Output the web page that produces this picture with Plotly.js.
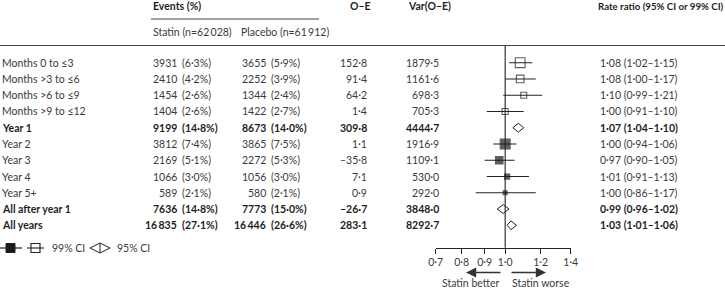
<!DOCTYPE html>
<html>
<head>
<meta charset="utf-8">
<script src="https://cdn.plot.ly/plotly-3.0.1.min.js"></script>
<style>html,body{margin:0;padding:0;background:#fff}#chart{width:725px;height:290px}</style>
</head>
<body>
<div id="chart"></div>
<script>
// ---- data ----
const labels = ["Months 0 to ≤3","Months >3 to ≤6","Months >6 to ≤9","Months >9 to ≤12","Year 1","Year 2","Year 3","Year 4","Year 5+","All after year 1","All years"];
const statinEvents = [3931,2410,1454,1404,9199,3812,2169,1066,589,7636,16835];
const statinPct = [6.3,4.2,2.6,2.6,14.8,7.4,5.1,3.0,2.1,14.8,27.1];
const placeboEvents = [3655,2252,1344,1422,8673,3865,2272,1056,580,7773,16446];
const placeboPct = [5.9,3.9,2.4,2.7,14.0,7.5,5.3,3.0,2.1,15.0,26.6];
const oMinusE = [152.8,91.4,64.2,1.4,309.8,1.1,-35.8,7.1,0.9,-26.7,283.1];
const varOE = [1879.5,1161.6,698.3,705.3,4444.7,1916.9,1109.1,530.0,292.0,3848.0,8292.7];
const rateRatio = [1.08,1.08,1.10,1.00,1.07,1.00,0.97,1.01,1.00,0.99,1.03];
const ciLow = [1.02,1.00,0.99,0.91,1.04,0.94,0.90,0.91,0.86,0.96,1.01];
const ciHigh = [1.15,1.17,1.21,1.10,1.10,1.06,1.05,1.13,1.17,1.02,1.06];
const markerKind = ["open","open","open","open","diamond","filled","filled","filled","filled","diamond","diamond"];
const boldRow = [false,false,false,false,true,false,false,false,false,true,true];
const tickVals = [0.7,0.8,0.9,1.0,1.2,1.4];
const tickText = ["0·7","0·8","0·9","1·0","1·2","1·4"];

// ---- helpers ----
const W = 725, H = 290;
const FONT = "Lato, Open Sans, sans-serif";
const FS = 10.5;
const TXT = "#3a3a3a", BLK = "#1e1e1e";
const px = x => x / W;            // pixel -> paper x
const py = y => 1 - y / H;        // pixel -> paper y
function dec(v, d){ const s = Math.abs(v).toFixed(d).replace(".", "·"); return (v < 0 ? "–" : "") + s; }
function intFmt(n){ const s = String(n); return s.length > 4 ? s.slice(0, s.length-3) + "\u2009" + s.slice(-3) : s; }

const rows = labels.map((_, i) => i);
const ann = [];
function addText(text, x, row, anchor, bold){
  ann.push({text: bold ? "<b>"+text+"</b>" : text, xref:"paper", yref:"y", x: px(x), y: row,
    xanchor: anchor, yanchor:"middle", showarrow:false,
    font:{family:FONT, size:FS, color: bold ? BLK : TXT}});
}
rows.forEach(i => {
  const b = boldRow[i];
  addText(labels[i], 0, i, "left", b);
  addText(intFmt(statinEvents[i]), 179, i, "right", b);
  addText("("+dec(statinPct[i],1)+"%)", 180, i, "left", b);
  addText(intFmt(placeboEvents[i]), 268, i, "right", b);
  addText("("+dec(placeboPct[i],1)+"%)", 269, i, "left", b);
  addText(dec(oMinusE[i],1), 369, i, "right", b);
  addText(dec(varOE[i],1), 441, i, "right", b);
  addText(dec(rateRatio[i],2)+" ("+dec(ciLow[i],2)+"–"+dec(ciHigh[i],2)+")", 598, i, "left", b);
});
// headers
function addHead(text, x, y, anchor, bold, size){
  ann.push({text: bold ? "<b>"+text+"</b>" : text, xref:"paper", yref:"paper", x: px(x), y: py(y),
    xanchor: anchor, yanchor:"middle", showarrow:false,
    font:{family:FONT, size: size || FS, color: bold ? BLK : TXT}});
}
addHead("Events (%)", 151, 6, "left", true);
addHead("Statin (n=62\u2009028)", 151, 32.5, "left", false);
addHead("Placebo (n=61\u2009912)", 239, 32.5, "left", false);
addHead("O–E", 348, 6, "left", true);
addHead("Var(O–E)", 406, 6, "left", true);
addHead("Rate ratio (95% CI or 99% CI)", 596, 6, "left", true, 9.7);
addHead("99% CI", 50, 248, "left", false);
addHead("95% CI", 115, 248, "left", false);
addHead("Statin better", 501, 282.5, "right", false);
addHead("Statin worse", 510, 282.5, "left", false);
// direction arrows
ann.push({text:"", xref:"paper", yref:"paper", x: px(466), y: py(272.5), ax: 36, ay: 0,
  showarrow:true, arrowhead:2, arrowsize:1.2, arrowwidth:1.7, arrowcolor:"#333"});
ann.push({text:"", xref:"paper", yref:"paper", x: px(546), y: py(272.5), ax: -36, ay: 0,
  showarrow:true, arrowhead:2, arrowsize:1.2, arrowwidth:1.7, arrowcolor:"#333"});

// ---- traces ----
const ciX = [], ciY = [];
rows.forEach(i => { if (markerKind[i] !== "diamond"){ ciX.push(ciLow[i], ciHigh[i], null); ciY.push(i, i, null); } });
const traces = [{type:"scatter", mode:"lines", x: ciX, y: ciY, line:{color:"#222", width:1.1}, hoverinfo:"skip", showlegend:false}];

const sq = rows.filter(i => markerKind[i] !== "diamond");
traces.push({type:"scatter", mode:"markers", x: sq.map(i => rateRatio[i]), y: sq,
  marker:{symbol: sq.map(i => markerKind[i] === "open" ? "square-open" : "square"),
          size: sq.map(i => 0.225 * Math.sqrt(varOE[i])),
          color:"#1a1a1a", line:{color:"#1a1a1a", width:1.1}},
  hoverinfo:"skip", showlegend:false});

const dh = 0.27;
rows.filter(i => markerKind[i] === "diamond").forEach(i => {
  traces.push({type:"scatter", mode:"lines", fill:"toself", fillcolor:"#fff",
    x:[ciLow[i], rateRatio[i], ciHigh[i], rateRatio[i], ciLow[i]],
    y:[i, i - dh, i, i + dh, i], line:{color:"#222", width:1}, hoverinfo:"skip", showlegend:false});
});

// ---- shapes (rules, reference line, legend glyphs) ----
const shapes = [
  {type:"line", xref:"paper", yref:"paper", x0:0, x1:1, y0:py(45.5), y1:py(45.5), line:{color:"#444", width:1}},
  {type:"line", xref:"paper", yref:"paper", x0:px(151), x1:px(319), y0:py(19), y1:py(19), line:{color:"#444", width:1}},
  {type:"line", xref:"x", yref:"paper", x0:1, x1:1, y0:py(45.5), y1:py(247.7), line:{color:"#222", width:1.1}},
  // legend
  {type:"line", xref:"paper", yref:"paper", x0:px(0), x1:px(22), y0:py(248), y1:py(248), line:{color:"#222", width:1.2}},
  {type:"rect", xref:"paper", yref:"paper", x0:px(6), x1:px(15), y0:py(243.5), y1:py(252.5), fillcolor:"#1a1a1a", line:{color:"#1a1a1a", width:1}},
  {type:"line", xref:"paper", yref:"paper", x0:px(27), x1:px(44), y0:py(248), y1:py(248), line:{color:"#222", width:1.1}},
  {type:"rect", xref:"paper", yref:"paper", x0:px(31), x1:px(40), y0:py(243.5), y1:py(252.5), line:{color:"#222", width:1.1}},
  {type:"path", xref:"paper", yref:"paper",
    path:`M ${px(90)} ${py(248)} L ${px(100)} ${py(243)} L ${px(110)} ${py(248)} L ${px(100)} ${py(253)} Z`, line:{color:"#222", width:1}},
  {type:"line", xref:"paper", yref:"paper", x0:px(100), x1:px(100), y0:py(243), y1:py(253), line:{color:"#222", width:1}}
];

const layout = {
  width: W, height: H, margin:{l:0, r:0, t:0, b:0},
  paper_bgcolor:"#fff", plot_bgcolor:"rgba(0,0,0,0)", showlegend:false,
  font:{family:FONT, size:FS, color:TXT},
  xaxis:{type:"log", range:[Math.log10(0.7), Math.log10(1.4)], domain:[px(435.7), px(570.7)],
    tickvals: tickVals, ticktext: tickText, ticks:"outside", ticklen:5, tickwidth:1, tickcolor:"#222",
    showline:true, linecolor:"#222", linewidth:1, showgrid:false, zeroline:false, fixedrange:true,
    tickfont:{family:FONT, size:FS, color:TXT}},
  yaxis:{domain:[py(247.7), 1], range:[11.378, -3.856], visible:false, fixedrange:true, showgrid:false, zeroline:false},
  annotations: ann, shapes: shapes
};
Plotly.newPlot("chart", traces, layout, {staticPlot:true, displayModeBar:false});
</script>
</body>
</html>
